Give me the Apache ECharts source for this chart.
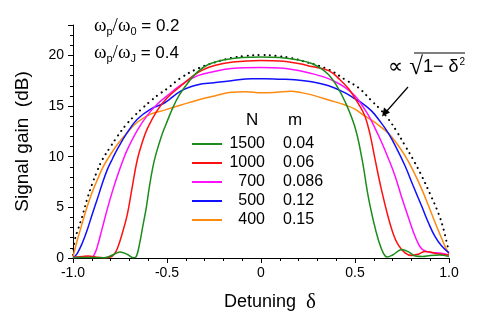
<!DOCTYPE html>
<html>
<head>
<meta charset="utf-8">
<script src="https://cdn.jsdelivr.net/npm/echarts@6/dist/echarts.min.js"></script>
<style>
  html, body { margin: 0; padding: 0; background: #fff; }
  #chart { width: 485px; height: 323px; }
</style>
</head>
<body>
<div id="chart"></div>
<script>
// legend columns
var nValues = ['1500', '1000', '700', '500', '400'];
var mValues = ['0.04', '0.06', '0.086', '0.12', '0.15'];
var colors = ['#1c8c1c', '#ff1010', '#ff10ff', '#1010ff', '#ff8a10'];

// [detuning, gain dB]
var gain1500 = [[-1.0,0.05],[-0.9,0.05],[-0.83,0.02],[-0.79,0.3],[-0.75,0.6],[-0.71,0.35],[-0.68,0.02],[-0.665,0.1],[-0.645,1.5],[-0.63,3.0],[-0.61,5.0],[-0.594,7.0],[-0.575,9.0],[-0.558,10.3],[-0.53,12.0],[-0.505,13.2],[-0.47,14.8],[-0.434,16.1],[-0.38,17.5],[-0.336,18.4],[-0.28,19.1],[-0.2,19.55],[-0.1,19.8],[0,19.85],[0.1,19.8],[0.2,19.55],[0.27,19.2],[0.32,18.7],[0.36,18.1],[0.4,17.1],[0.448,15.4],[0.5,12.9],[0.537,9.8],[0.571,6.0],[0.6,3.5],[0.624,1.8],[0.65,0.5],[0.67,0.1],[0.7,0.3],[0.75,0.85],[0.785,0.6],[0.82,0.2],[0.86,0.15],[0.9,0.25],[0.95,0.3],[1.0,0.15]];
var gain1000 = [[-1.0,0.05],[-0.95,0.15],[-0.92,0.2],[-0.88,0.1],[-0.84,0.02],[-0.8,0.1],[-0.78,0.4],[-0.764,0.94],[-0.74,2.3],[-0.711,4.3],[-0.685,7.0],[-0.658,9.7],[-0.63,11.5],[-0.604,12.8],[-0.551,14.6],[-0.5,15.8],[-0.425,17.0],[-0.336,18.3],[-0.247,19.0],[-0.15,19.35],[0,19.5],[0.1,19.45],[0.2,19.2],[0.27,18.9],[0.36,18.5],[0.42,17.6],[0.466,16.7],[0.519,15.2],[0.553,14.0],[0.58,12.2],[0.606,9.8],[0.64,6.8],[0.677,4.0],[0.705,2.3],[0.73,1.3],[0.766,0.5],[0.8,0.25],[0.84,0.4],[0.873,0.65],[0.9,0.6],[0.93,0.45],[0.97,0.35],[1.0,0.3]];
var gain700 = [[-1.0,0.05],[-0.95,0.1],[-0.92,0.1],[-0.9,0.05],[-0.885,0.4],[-0.871,1.1],[-0.845,2.9],[-0.818,4.8],[-0.79,6.6],[-0.764,8.1],[-0.735,9.6],[-0.711,10.7],[-0.658,12.6],[-0.604,14.1],[-0.551,15.2],[-0.5,16.0],[-0.425,17.1],[-0.336,18.0],[-0.25,18.4],[-0.158,18.7],[0,18.8],[0.1,18.75],[0.2,18.5],[0.27,18.2],[0.33,17.9],[0.395,17.4],[0.45,16.8],[0.501,16.0],[0.54,15.0],[0.571,14.1],[0.607,12.8],[0.642,11.4],[0.678,9.8],[0.713,8.1],[0.75,5.9],[0.784,4.0],[0.81,2.6],[0.837,1.4],[0.855,0.9],[0.873,0.7],[0.9,0.55],[0.95,0.5],[1.0,0.3]];
var gain500 = [[-1.0,0.0],[-0.978,0.44],[-0.95,1.5],[-0.924,2.8],[-0.898,4.3],[-0.871,5.8],[-0.845,7.3],[-0.818,8.7],[-0.79,9.8],[-0.764,10.75],[-0.711,12.4],[-0.658,13.7],[-0.587,14.7],[-0.514,15.3],[-0.425,16.5],[-0.336,17.1],[-0.25,17.3],[-0.158,17.5],[-0.05,17.7],[0.02,17.7],[0.1,17.65],[0.18,17.6],[0.27,17.4],[0.36,17.0],[0.448,16.3],[0.5,15.7],[0.537,15.3],[0.589,14.5],[0.633,13.5],[0.678,12.3],[0.722,10.8],[0.766,9.1],[0.81,7.1],[0.855,5.1],[0.89,3.5],[0.926,2.1],[0.96,1.2],[1.0,0.5]];
var gain400 = [[-1.0,0.1],[-0.978,1.7],[-0.95,3.5],[-0.924,5.1],[-0.898,6.5],[-0.871,7.7],[-0.845,8.8],[-0.818,9.7],[-0.764,11.2],[-0.711,12.4],[-0.658,13.4],[-0.587,14.2],[-0.514,14.6],[-0.425,15.1],[-0.336,15.6],[-0.247,16.0],[-0.158,16.35],[-0.08,16.4],[0,16.3],[0.08,16.35],[0.16,16.45],[0.22,16.3],[0.27,16.1],[0.36,15.6],[0.448,15.1],[0.5,14.7],[0.537,14.2],[0.589,13.6],[0.633,13.0],[0.678,12.3],[0.722,11.3],[0.766,10.1],[0.81,8.6],[0.855,6.8],[0.89,5.2],[0.926,3.5],[0.955,2.2],[0.98,1.1],[1.0,0.4]];
var envelope = [[-1.0,0.3],[-0.99,1.8],[-0.97,3.0],[-0.951,4.1],[-0.925,5.8],[-0.898,7.3],[-0.871,8.6],[-0.844,9.7],[-0.8,11.0],[-0.764,12.0],[-0.72,13.1],[-0.675,14.0],[-0.63,14.8],[-0.587,15.5],[-0.54,16.2],[-0.5,16.7],[-0.425,17.8],[-0.336,18.7],[-0.247,19.3],[-0.158,19.75],[-0.08,19.95],[0,20.05],[0.08,19.95],[0.158,19.75],[0.247,19.3],[0.36,18.6],[0.448,17.6],[0.519,16.8],[0.589,15.5],[0.633,14.7],[0.678,13.7],[0.722,12.5],[0.766,11.1],[0.81,9.7],[0.855,8.1],[0.9,6.3],[0.944,4.4],[0.97,2.9],[0.997,0.8]];

var curves = [gain1500, gain1000, gain700, gain500, gain400];

var sans = 'Liberation Sans, Arial, sans-serif';
var serif = 'Liberation Serif, Times New Roman, serif';

var chart = echarts.init(document.getElementById('chart'));

var series = curves.map(function (d, i) {
    return {
        name: nValues[i],
        type: 'line',
        data: d,
        smooth: 0.4,
        symbol: 'none',
        z: 10 - i,
        lineStyle: { color: colors[i], width: 1.5 },
        itemStyle: { color: colors[i] }
    };
});
series.push({
    name: 'envelope',
    type: 'line',
    data: envelope,
    smooth: 0.4,
    symbol: 'none',
    z: 1,
    lineStyle: { color: '#000', width: 2, type: [0.1, 5.5], cap: 'round' }
});

var legendBase = {
    data: nValues,
    orient: 'vertical',
    top: 136,
    padding: 0,
    itemHeight: 12,
    itemGap: 3,
    selectedMode: false
};

var option = {
    animation: false,
    backgroundColor: '#fff',
    grid: { left: 73, right: 36, top: 25, bottom: 65 },
    xAxis: {
        type: 'value',
        min: -1, max: 1, interval: 0.5,
        name: '{a|Detuning  }{d|δ}',
        nameLocation: 'middle',
        nameGap: 34,
        nameTextStyle: {
            padding: [0, 0, 0, 18],
            rich: {
                a: { fontFamily: sans, fontSize: 18, color: '#000' },
                d: { fontFamily: serif, fontSize: 21, color: '#000' }
            }
        },
        axisLine: { onZero: false, lineStyle: { color: '#000', width: 1 } },
        axisTick: { inside: false, length: 5, lineStyle: { color: '#000' } },
        minorTick: { show: true, splitNumber: 5, length: 3, lineStyle: { color: '#000' } },
        splitLine: { show: false },
        axisLabel: {
            fontFamily: sans, fontSize: 14, color: '#000', margin: 8,
            formatter: function (v) { return v === 0 ? '0' : v.toFixed(1); }
        }
    },
    yAxis: {
        type: 'value',
        min: 0, max: 23, interval: 5,
        name: 'Signal gain  (dB)',
        nameLocation: 'middle',
        nameGap: 41,
        nameTextStyle: { fontFamily: sans, fontSize: 19, color: '#000' },
        axisLine: { show: true, onZero: false, lineStyle: { color: '#000', width: 1 } },
        axisTick: { inside: false, length: 5, lineStyle: { color: '#000' } },
        minorTick: { show: true, splitNumber: 5, length: 3, lineStyle: { color: '#000' } },
        splitLine: { show: false },
        axisLabel: {
            fontFamily: sans, fontSize: 14, color: '#000', margin: 9,
            showMaxLabel: false,
            formatter: function (v) { return v % 5 === 0 ? String(v) : ''; }
        }
    },
    legend: [
        // line samples + N column
        Object.assign({}, legendBase, {
            left: 192,
            itemWidth: 30,
            icon: 'path://M0,5 L30,5 L30,7 L0,7 Z',
            formatter: function (name) { return '{n|' + name + '}'; },
            textStyle: {
                fontFamily: sans, fontSize: 16, color: '#000',
                rich: { n: { fontFamily: sans, fontSize: 16, width: 38, align: 'right' } }
            }
        }),
        // m column
        Object.assign({}, legendBase, {
            left: 278,
            itemWidth: 0,
            icon: 'none',
            formatter: function (name) { return mValues[nValues.indexOf(name)]; },
            textStyle: { fontFamily: sans, fontSize: 16, color: '#000' }
        })
    ],
    graphic: [
        {
            type: 'text', left: 94, top: 17,
            style: {
                text: '{w|ω}{s|p}{w|/ω}{s|0}{t| = 0.2}',
                rich: {
                    w: { fontFamily: serif, fontSize: 19, fill: '#000' },
                    s: { fontFamily: sans, fontSize: 11, fill: '#000', padding: [11, 0, 0, 0] },
                    t: { fontFamily: sans, fontSize: 17, fill: '#000' }
                }
            }
        },
        {
            type: 'text', left: 94, top: 44,
            style: {
                text: '{w|ω}{s|p}{w|/ω}{s|J}{t| = 0.4}',
                rich: {
                    w: { fontFamily: serif, fontSize: 19, fill: '#000' },
                    s: { fontFamily: sans, fontSize: 11, fill: '#000', padding: [11, 0, 0, 0] },
                    t: { fontFamily: sans, fontSize: 17, fill: '#000' }
                }
            }
        },
        {
            type: 'text', left: 246, top: 112,
            style: { text: 'N', fontFamily: sans, fontSize: 17, fill: '#000' }
        },
        {
            type: 'text', left: 288, top: 112,
            style: { text: 'm', fontFamily: sans, fontSize: 17, fill: '#000' }
        },
        {
            type: 'text', left: 388, top: 55,
            style: {
                text: '{a|∝}{r| √}{b|1− δ}{p|2}',
                rich: {
                    a: { fontFamily: serif, fontSize: 21, fill: '#000' },
                    r: { fontFamily: serif, fontSize: 25, fill: '#000' },
                    b: { fontFamily: sans, fontSize: 18, fill: '#000' },
                    p: { fontFamily: sans, fontSize: 10, fill: '#000', padding: [0, 0, 10, 1] }
                }
            }
        },
        {
            type: 'line', z: 20,
            shape: { x1: 414, y1: 53, x2: 465, y2: 53 },
            style: { stroke: '#000', lineWidth: 1 }
        },
        {
            type: 'line', z: 20,
            shape: { x1: 408, y1: 87, x2: 386, y2: 112 },
            style: { stroke: '#000', lineWidth: 1.2 }
        },
        {
            type: 'polygon', z: 20,
            shape: { points: [[382, 116.5], [384, 107.5], [390, 112.5]] },
            style: { fill: '#000' }
        }
    ],
    series: series
};
chart.setOption(option);
</script>
</body>
</html>
